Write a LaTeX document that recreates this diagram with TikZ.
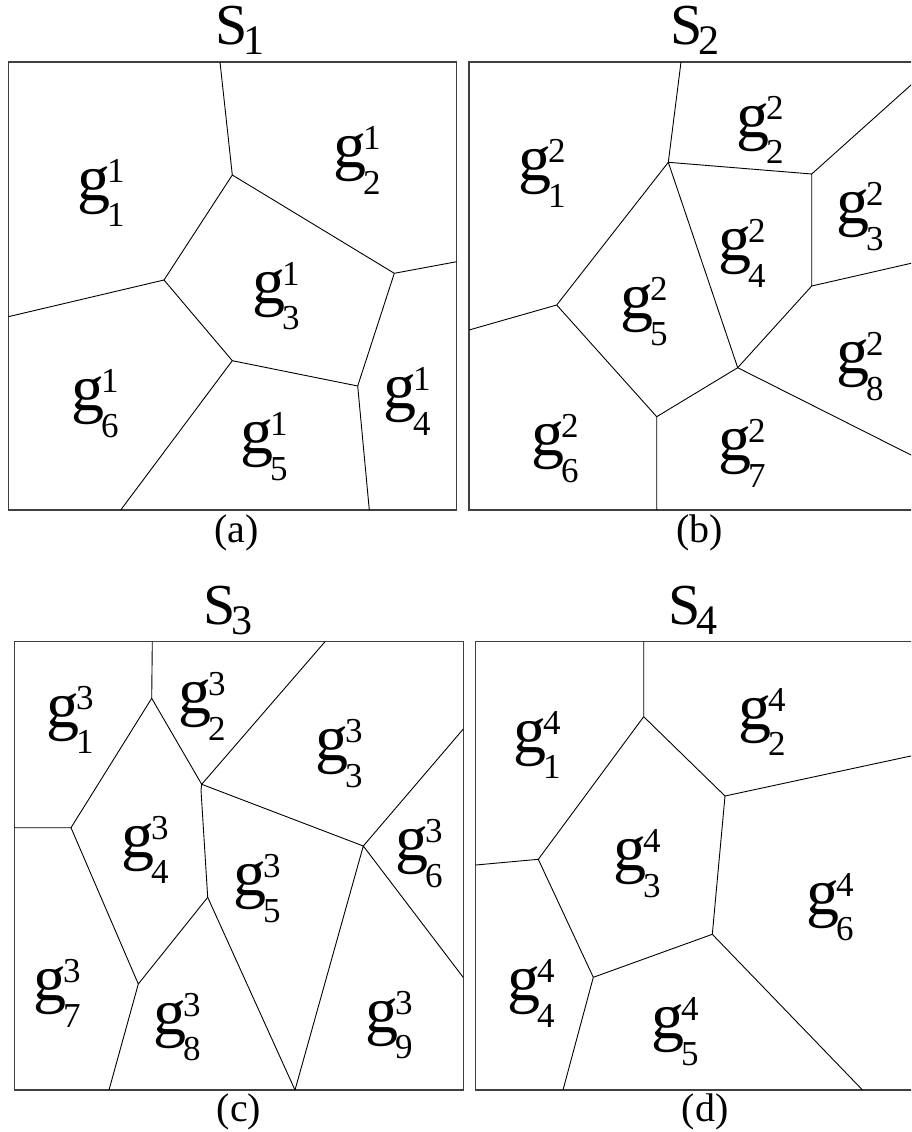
\documentclass[tikz,border=0pt]{standalone}
\usepackage{fontspec}
\setmainfont{Liberation Serif}
\newcommand\glab[2]{{\fontsize{66}{66}\selectfont g}\kern-3pt\makebox[0pt][l]{\raisebox{18pt}{\fontsize{35}{35}\selectfont #1}}\raisebox{-26.5pt}{\fontsize{35}{35}\selectfont #2}}
\newcommand\stitle[1]{{\fontsize{58}{58}\selectfont S}\kern-4pt\raisebox{-10.5pt}{\fontsize{42}{42}\selectfont #1}}
\tikzset{
  edge/.style={line width=0.9pt, line join=round},
  frame/.style={line width=1.3pt, draw=black!75},
  lab/.style={inner sep=0pt, outer sep=0pt, anchor=base west},
  ttl/.style={inner sep=0pt, outer sep=0pt, anchor=base west},
  captxt/.style={inner sep=0pt, outer sep=0pt, anchor=base, font=\fontsize{40}{40}\selectfont}
}
\begin{document}
\begin{tikzpicture}[x=1pt,y=-1pt]
\useasboundingbox (0,0) rectangle (911,1132);
\clip (0,0) rectangle (911,1132);
\fill[white] (0,0) rectangle (911,1132);

% ---------- panel (a)
\draw[frame] (8.3,62) rectangle (456.7,510);
\coordinate (a-t) at (220,62);
\coordinate (aA) at (232.3,175);
\coordinate (aB) at (164,280);
\coordinate (aC) at (394.3,273.3);
\coordinate (a-r) at (456.7,261.7);
\coordinate (a-l) at (8.3,316.7);
\coordinate (aD) at (232.3,360.7);
\coordinate (aE) at (357.7,386);
\coordinate (a-b1) at (120.7,510);
\coordinate (a-b2) at (369.3,510);
\draw[edge] (a-t)--(aA)--(aB)--(aD)--(aE)--(aC)--(aA);
\draw[edge] (aC)--(a-r) (aB)--(a-l) (aD)--(a-b1) (aE)--(a-b2);
\node[lab] (g11) at (77,200) {\glab{1}{1}};
\node[lab] (g21) at (333,167.6) {\glab{1}{2}};
\node[lab] (g31) at (252,303) {\glab{1}{3}};
\node[lab] (g41) at (383,408.5) {\glab{1}{4}};
\node[lab] (g51) at (240,453.5) {\glab{1}{5}};
\node[lab] (g61) at (71,410.5) {\glab{1}{6}};
\node[ttl] (s1) at (215,44.5) {\stitle{1}};
\node[captxt] (ca) at (236.5,542) {(a)};

% ---------- panel (b)
\draw[frame] (469,62) rectangle (930,510);
\coordinate (b-t) at (681,62);
\coordinate (bP1) at (668.3,162.3);
\coordinate (bP2) at (811.7,174);
\coordinate (b-ur) at (915,81.4);
\coordinate (bP3) at (811.7,286);
\coordinate (b-r1) at (915,262.4);
\coordinate (bP4) at (556.7,305);
\coordinate (b-l) at (469,330);
\coordinate (bP5) at (737.7,367.7);
\coordinate (bP6) at (656.7,416.7);
\coordinate (b-b) at (656.7,510);
\coordinate (b-r2) at (915,457);
\draw[edge] (b-t)--(bP1)--(bP2)--(bP3)--(bP5)--(bP1);
\draw[edge] (bP1)--(bP4)--(bP6)--(bP5);
\draw[edge] (bP2)--(b-ur) (bP3)--(b-r1) (bP4)--(b-l) (bP6)--(b-b) (bP5)--(b-r2);
\node[lab] (g12) at (518,180.5) {\glab{2}{1}};
\node[lab] (g22) at (736,137) {\glab{2}{2}};
\node[lab] (g32) at (836,223.5) {\glab{2}{3}};
\node[lab] (g42) at (718,260.5) {\glab{2}{4}};
\node[lab] (g52) at (620,318.5) {\glab{2}{5}};
\node[lab] (g62) at (531,455.5) {\glab{2}{6}};
\node[lab] (g72) at (718,460.5) {\glab{2}{7}};
\node[lab] (g82) at (836,373.5) {\glab{2}{8}};
\node[ttl] (s2) at (670,44.5) {\stitle{2}};
\node[captxt] (cb) at (699.5,542) {(b)};

% ---------- panel (c)
\draw[frame] (14.3,641.7) rectangle (463.3,1090);
\coordinate (c-t1) at (152.3,641.7);
\coordinate (cQ1) at (151.7,698.3);
\coordinate (cQ2) at (71,827.7);
\coordinate (c-l) at (14.3,827.7);
\coordinate (cV1) at (201.7,784.3);
\coordinate (cV2) at (201,790);
\coordinate (c-t2) at (325,641.7);
\coordinate (cR) at (363.3,846);
\coordinate (c-r1) at (463.3,729);
\coordinate (cQ5) at (207.7,897.3);
\coordinate (cQ4) at (138.3,984);
\coordinate (c-b1) at (109,1090);
\coordinate (cB) at (295,1090);
\coordinate (c-r2) at (463.3,977.5);
\draw[edge] (c-t1)--(cQ1)--(cQ2)--(c-l);
\draw[edge] (cQ1)--(cV1)--(cV2)--(cQ5)--(cQ4)--(cQ2);
\draw[edge] (cV1)--(c-t2) (cV1)--(cR)--(c-r1) (cR)--(cB)--(cQ5) (cR)--(c-r2) (cQ4)--(c-b1);
\node[lab] (g13) at (46,727) {\glab{3}{1}};
\node[lab] (g23) at (178,713.5) {\glab{3}{2}};
\node[lab] (g33) at (315,760.5) {\glab{3}{3}};
\node[lab] (g43) at (121,857) {\glab{3}{4}};
\node[lab] (g53) at (233,895.5) {\glab{3}{5}};
\node[lab] (g63) at (395,860.5) {\glab{3}{6}};
\node[lab] (g73) at (33,1000.5) {\glab{3}{7}};
\node[lab] (g83) at (153,1034) {\glab{3}{8}};
\node[lab] (g93) at (365,1032) {\glab{3}{9}};
\node[ttl] (s3) at (203,624) {\stitle{3}};
\node[captxt] (cc) at (239,1121) {(c)};

% ---------- panel (d)
\draw[frame] (475.7,641.7) rectangle (930,1090);
\coordinate (d-t) at (643.7,641.7);
\coordinate (dT1) at (643.7,716.7);
\coordinate (dT2) at (725,796);
\coordinate (d-r) at (915,755.1);
\coordinate (dT3) at (538.3,859.3);
\coordinate (d-l) at (475.7,865);
\coordinate (dT4) at (593.3,977.3);
\coordinate (dT5) at (712.3,934.3);
\coordinate (d-b1) at (563,1090);
\coordinate (d-b2) at (862.5,1090);
\draw[edge] (d-t)--(dT1)--(dT2)--(dT5)--(dT4)--(dT3)--(dT1);
\draw[edge] (dT2)--(d-r) (dT3)--(d-l) (dT4)--(d-b1) (dT5)--(d-b2);
\node[lab] (g14) at (513,752) {\glab{4}{1}};
\node[lab] (g24) at (738,729) {\glab{4}{2}};
\node[lab] (g34) at (613,870.5) {\glab{4}{3}};
\node[lab] (g44) at (507,1000.5) {\glab{4}{4}};
\node[lab] (g54) at (651,1038.5) {\glab{4}{5}};
\node[lab] (g64) at (806,914) {\glab{4}{6}};
\node[ttl] (s4) at (668,624) {\stitle{4}};
\node[captxt] (cd) at (705,1121) {(d)};
\end{tikzpicture}
\end{document}
